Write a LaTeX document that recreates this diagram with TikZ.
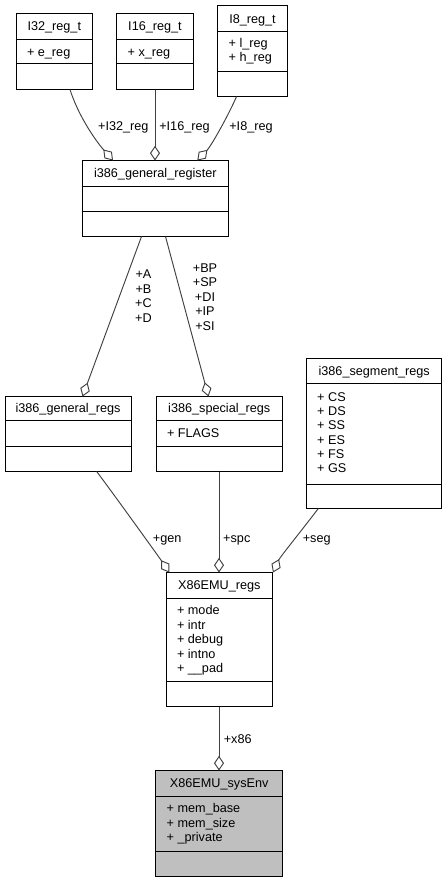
\documentclass[tikz,border=0pt]{standalone}
\usepackage{fontspec}
\setmainfont{Liberation Sans}
\usetikzlibrary{arrows.meta,calc}
\definecolor{edgecol}{HTML}{404040}
\definecolor{envfill}{HTML}{BFBFBF}
\newcommand\umlbox[8][white]{%
  \node[umlrect, fill=#1, minimum width={(#5-#3)*0.75pt}, minimum height={(#6-#4)*0.75pt}] (#2) at (#3,#4) {};
  \draw[sepline] (#3,#7) -- (#5,#7);
  \draw[sepline] (#3,#8) -- (#5,#8);
}
\newcommand\umlitems[5]{%
  \foreach \t [count=\i from 0] in {#5} {\node[itemtxt] (#1-\i) at (#2, {#3+#4*\i}) {\t};}
}
\begin{document}
\begin{tikzpicture}[x=0.75pt,y=-0.75pt,
  umlrect/.style={draw=black, line width=0.75pt, inner sep=0pt, outer sep=0pt, anchor=north west},
  sepline/.style={black, line width=0.75pt},
  txt/.style={inner sep=0pt, outer sep=0pt, font=\fontsize{9.5}{11}\selectfont, text height=6.8pt, text depth=0pt},
  itemtxt/.style={txt, anchor=west},
  lbl/.style={inner sep=0pt, outer sep=0pt, font=\fontsize{9.5}{10.9}\selectfont, align=center},
  edge/.style={draw=edgecol, line width=0.7pt, -{Diamond[open, length=11pt, width=7.5pt]}}
]
\useasboundingbox[fill=white] (0,0) rectangle (447,883);

% boxes
\umlbox{I32}{16.5}{13.5}{92.5}{89.5}{39.5}{63.5}
\node[txt] (I32t) at (54.3,26.3) {I32\_reg\_t};
\umlitems{I32i}{27}{51.7}{14.5}{+ e\_reg}

\umlbox{I16}{116.5}{13.5}{193.5}{89.5}{39.5}{63.5}
\node[txt] (I16t) at (155,26.3) {I16\_reg\_t};
\umlitems{I16i}{127.7}{51.7}{14.5}{+ x\_reg}

\umlbox{I8}{217.5}{5.5}{287.5}{96.5}{31.5}{71.5}
\node[txt] (I8t) at (252.5,18.7) {I8\_reg\_t};
\umlitems{I8i}{228.7}{42.7}{14.6}{+ l\_reg,+ h\_reg}

\umlbox{genreg}{82.5}{160.5}{228.5}{236.5}{186.5}{211.5}
\node[txt] (genregt) at (155.3,173.3) {i386\_general\_register};

\umlbox{gregs}{5.5}{396.5}{131.5}{471.5}{420.5}{446.5}
\node[txt] (gregst) at (68,408.3) {i386\_general\_regs};

\umlbox{sregs}{156.5}{396.5}{282.5}{471.5}{420.5}{446.5}
\node[txt] (sregst) at (219.3,408.3) {i386\_special\_regs};
\umlitems{sregsi}{167}{432.7}{14.5}{+ FLAGS}

\umlbox{seg}{306.5}{358.5}{441.5}{508.5}{383.5}{484.5}
\node[txt] (segt) at (374.2,370.8) {i386\_segment\_regs};
\umlitems{segi}{317.2}{396.7}{14.3}{+ CS,+ DS,+ SS,+ ES,+ FS,+ GS}

\umlbox{X86}{166.5}{572.5}{272.5}{706.5}{598.5}{681.5}
\node[txt] (X86t) at (219.3,585.3) {X86EMU\_regs};
\umlitems{X86i}{177}{610}{14.5}{+ mode,+ intr,+ debug,+ intno,+ \_\_pad}

\umlbox[envfill]{env}{155.5}{770.5}{282.5}{876.5}{796.5}{851.5}
\node[txt] (envt) at (219.2,783.3) {X86EMU\_sysEnv};
\umlitems{envi}{166.7}{808.3}{14.5}{+ mem\_base,+ mem\_size,+ \_private}

% connectors
\draw[edge] ($(I32.south west)+(53.5,0)$) .. controls (78,115) and (95,140) .. ($(genreg.north west)+(30.5,0)$);
\draw[edge] ($(I16.south west)+(38.5,0)$) -- ($(genreg.north west)+(72.5,0)$);
\draw[edge] ($(I8.south west)+(19,0)$) .. controls (230,112) and (212,145) .. ($(genreg.north west)+(114.8,0)$);
\draw[edge] ($(genreg.south west)+(59,0)$) -- ($(gregs.north west)+(77,0)$);
\draw[edge] ($(genreg.south west)+(83,0)$) -- ($(sregs.north west)+(52,0)$);
\draw[edge] ($(gregs.south west)+(91.2,0)$) .. controls (118,500) and (161,560) .. ($(X86.north west)+(2.8,0)$);
\draw[edge] ($(sregs.south west)+(62.5,0)$) -- ($(X86.north west)+(52.5,0)$);
\draw[edge] ($(seg.south west)+(11.8,0)$) .. controls (303.3,528.3) and (279.9,557.3) .. ($(X86.north west)+(106.5,0)$);
\draw[edge] ($(X86.south west)+(52.5,0)$) -- ($(env.north west)+(63.5,0)$);

% labels
\node[lbl] (l32) at (123.3,127.7) {+I32\_reg};
\node[lbl] (l16) at (184.5,127.7) {+I16\_reg};
\node[lbl] (l8) at (251,127.7) {+I8\_reg};
\node[lbl] (labcd) at (143.5,296.3) {+A\\+B\\+C\\+D};
\node[lbl] (lbp) at (205,297) {+BP\\+SP\\+DI\\+IP\\+SI};
\node[lbl] (lgen) at (167.2,540) {+gen};
\node[lbl] (lspc) at (236.8,540) {+spc};
\node[lbl] (lseg) at (316.7,540) {+seg};
\node[lbl] (lx86) at (237.7,739) {+x86};
\end{tikzpicture}
\end{document}
